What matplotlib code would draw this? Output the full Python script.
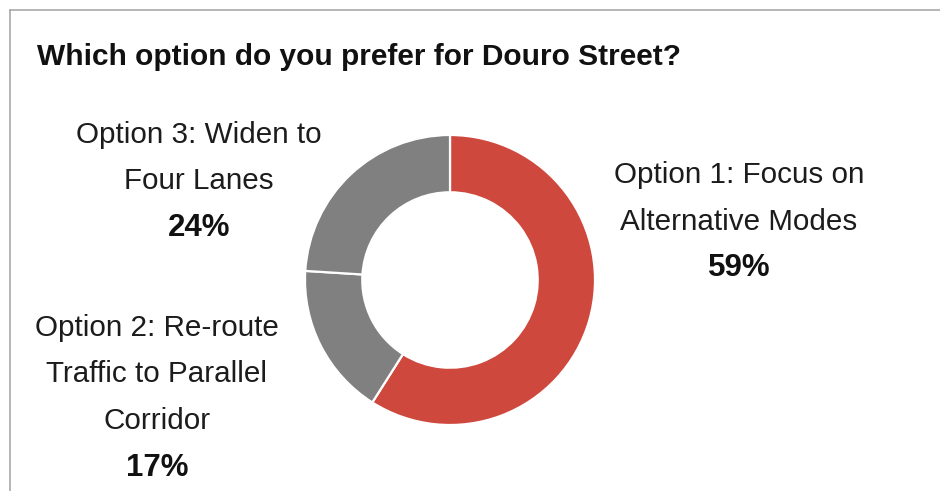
import matplotlib.pyplot as plt
from matplotlib.lines import Line2D

plt.rcParams['font.family'] = ['Liberation Sans', 'DejaVu Sans']

title = 'Which option do you prefer for Douro Street?'
options = ['Option 1: Focus on\nAlternative Modes',
           'Option 2: Re-route\nTraffic to Parallel\nCorridor',
           'Option 3: Widen to\nFour Lanes']
shares = [59, 17, 24]
colors = ['#CF483D', '#808080', '#808080']

W, H = 940, 491
fig = plt.figure(figsize=(W / 100, H / 100), dpi=100)

def fx(px):
    return px / W

def fy(py):
    return 1 - py / H

# frame lines (top and left)
fig.add_artist(Line2D([fx(10), 1], [fy(10), fy(10)], color='#a9a9a9', lw=1.2))
fig.add_artist(Line2D([fx(10), fx(10)], [fy(10), 0], color='#a9a9a9', lw=1.2))

fig.text(fx(37), fy(57), title, fontsize=21.5, fontweight='bold',
         color='#111111', va='center', ha='left')

# donut
cx, cy, r = 450, 280, 145
ax = fig.add_axes([fx(cx - r), fy(cy + r), (2 * r) / W, (2 * r) / H])
ax.pie(shares, colors=colors, startangle=90, counterclock=False,
       radius=1, wedgeprops=dict(width=0.395, edgecolor='white', linewidth=1.6))
ax.set_xlim(-1, 1)
ax.set_ylim(-1, 1)
ax.axis('off')

# labels: (center x px, first line y px)
label_pos = [(739, 175), (157, 328), (199, 135)]
line_gap = 46.5
for text, share, (lx, ly) in zip(options, shares, label_pos):
    lines = text.split('\n')
    for i, ln in enumerate(lines):
        fig.text(fx(lx), fy(ly + i * line_gap), ln, fontsize=21.3,
                 color='#1c1c1c', ha='center', va='center')
    fig.text(fx(lx), fy(ly + len(lines) * line_gap), f'{share}%', fontsize=22.5,
             fontweight='bold', color='#111111', ha='center', va='center')

fig.savefig('out.png', dpi=100, facecolor='white')
